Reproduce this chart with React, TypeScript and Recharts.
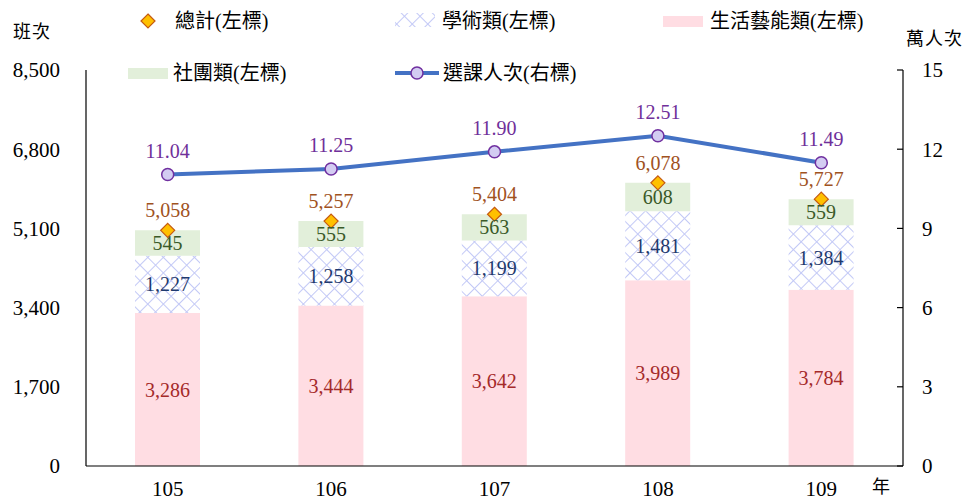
import React from 'react';
import { ComposedChart, Bar, Line, XAxis, YAxis, LabelList } from 'recharts';

const years = ['105', '106', '107', '108', '109'];
const lifeArts = [3286, 3444, 3642, 3989, 3784];
const academic = [1227, 1258, 1199, 1481, 1384];
const clubs = [545, 555, 563, 608, 559];
const totals = [5058, 5257, 5404, 6078, 5727];
const enrollment = [11.04, 11.25, 11.9, 12.51, 11.49];
const leftTicks = [0, 1700, 3400, 5100, 6800, 8500];
const rightTicks = [0, 3, 6, 9, 12, 15];

const data = years.map((y, i) => ({
  year: y,
  life: lifeArts[i],
  academic: academic[i],
  clubs: clubs[i],
  total: totals[i],
  enroll: enrollment[i],
}));

const FONT = "'Liberation Serif', 'Noto Sans CJK TC', serif";
const fmt = (v: any) => Number(v).toLocaleString('en-US');

const Diamond = (props: any) => {
  const { cx, cy } = props;
  if (cx == null || cy == null) return null;
  const s = 7;
  return (
    <path
      d={`M${cx},${cy - s}L${cx + s},${cy}L${cx},${cy + s}L${cx - s},${cy}Z`}
      fill="#FFC000"
      stroke="#C55A11"
      strokeWidth={1.2}
    />
  );
};

const HatchDef = ({ id }: { id: string }) => (
  <defs>
    <pattern id={id} width={11} height={11} patternUnits="userSpaceOnUse" patternTransform="rotate(45)">
      <rect width={11} height={11} fill="#ffffff" />
      <line x1={0} y1={0} x2={11} y2={0} stroke="#C3C9F6" strokeWidth={2} />
      <line x1={0} y1={0} x2={0} y2={11} stroke="#C3C9F6" strokeWidth={2} />
    </pattern>
  </defs>
);

const Legend = () => (
  <svg width={973} height={100} style={{ position: 'absolute', left: 0, top: 0, pointerEvents: 'none' }}>
    <HatchDef id="hatchLegend" />
    <g fontFamily={FONT} fontSize={20} fill="#000">
      <Diamond cx={148} cy={21} />
      <text x={175} y={28}>總計(左標)</text>
      <rect x={395} y={13} width={40} height={14} fill="url(#hatchLegend)" />
      <text x={442} y={28}>學術類(左標)</text>
      <rect x={663} y={16} width={40} height={11} fill="#FFDDE3" />
      <text x={710} y={28}>生活藝能類(左標)</text>
      <rect x={128} y={68} width={40} height={11} fill="#E2EFDA" />
      <text x={173} y={80}>社團類(左標)</text>
      <line x1={395} y1={73} x2={439} y2={73} stroke="#4472C4" strokeWidth={4} />
      <circle cx={417} cy={73} r={6} fill="#D3CCF2" stroke="#7030A0" strokeWidth={1.5} />
      <text x={443} y={80}>選課人次(右標)</text>
    </g>
    <g fontFamily={FONT} fontSize={18} fill="#000">
      <text x={13} y={38} letterSpacing={1}>班次</text>
      <text x={906} y={45} letterSpacing={1}>萬人次</text>
    </g>
  </svg>
);

export default function App() {
  return (
    <div style={{ position: 'absolute', left: 0, top: 0, width: 973, height: 502, background: '#fff' }}>
      <ComposedChart
        width={973}
        height={502}
        data={data}
        margin={{ top: 70, right: 10, bottom: 6, left: 26 }}
        barCategoryGap="30%"
      >
        <HatchDef id="hatchBar" />
        <XAxis
          dataKey="year"
          axisLine={{ stroke: '#000', strokeWidth: 1.2 }}
          tickLine={false}
          tickSize={6}
          tickMargin={9}
          height={30}
          tick={{ fill: '#000', fontSize: 21, fontFamily: FONT }}
          label={{ value: '年', position: 'insideBottomRight', dx: -8, dy: 2, fill: '#000', fontSize: 18, fontFamily: FONT }}
        />
        <YAxis
          yAxisId="left"
          domain={[0, 8500]}
          ticks={leftTicks}
          interval={0}
          width={60}
          axisLine={{ stroke: '#000', strokeWidth: 1.2 }}
          tickLine={false}
          tickSize={6}
          tickMargin={20}
          tickFormatter={fmt}
          tick={{ fill: '#000', fontSize: 21, fontFamily: FONT }}
        />
        <YAxis
          yAxisId="right"
          orientation="right"
          domain={[0, 15]}
          ticks={rightTicks}
          interval={0}
          width={60}
          axisLine={{ stroke: '#000', strokeWidth: 1.2 }}
          tickLine={{ stroke: '#000', strokeWidth: 1.2 }}
          tickSize={-6}
          tickMargin={25}
          tick={{ fill: '#000', fontSize: 21, fontFamily: FONT, textAnchor: 'start' }}
        />
        <Bar yAxisId="left" dataKey="life" stackId="s" fill="#FFDDE3" barSize={65} isAnimationActive={false}>
          <LabelList dataKey="life" position="center" formatter={fmt} fill="#A52A2A" fontSize={20} fontFamily={FONT} />
        </Bar>
        <Bar yAxisId="left" dataKey="academic" stackId="s" fill="url(#hatchBar)" barSize={65} isAnimationActive={false}>
          <LabelList dataKey="academic" position="center" formatter={fmt} fill="#1F3A6E" fontSize={20} fontFamily={FONT} />
        </Bar>
        <Bar yAxisId="left" dataKey="clubs" stackId="s" fill="#E2EFDA" barSize={65} isAnimationActive={false}>
          <LabelList dataKey="clubs" position="center" formatter={fmt} fill="#3A5A28" fontSize={20} fontFamily={FONT} />
        </Bar>
        <Line
          yAxisId="left"
          dataKey="total"
          stroke="none"
          dot={<Diamond />}
          activeDot={false}
          isAnimationActive={false}
        >
          <LabelList dataKey="total" position="top" offset={13} formatter={fmt} fill="#A0521E" fontSize={20} fontFamily={FONT} />
        </Line>
        <Line
          yAxisId="right"
          dataKey="enroll"
          stroke="#4472C4"
          strokeWidth={4}
          dot={{ r: 6, fill: '#D3CCF2', stroke: '#7030A0', strokeWidth: 1.5 }}
          activeDot={false}
          isAnimationActive={false}
        >
          <LabelList dataKey="enroll" position="top" offset={17} formatter={(v: any) => Number(v).toFixed(2)} fill="#70309A" fontSize={20} fontFamily={FONT} />
        </Line>
      </ComposedChart>
      <Legend />
    </div>
  );
}
